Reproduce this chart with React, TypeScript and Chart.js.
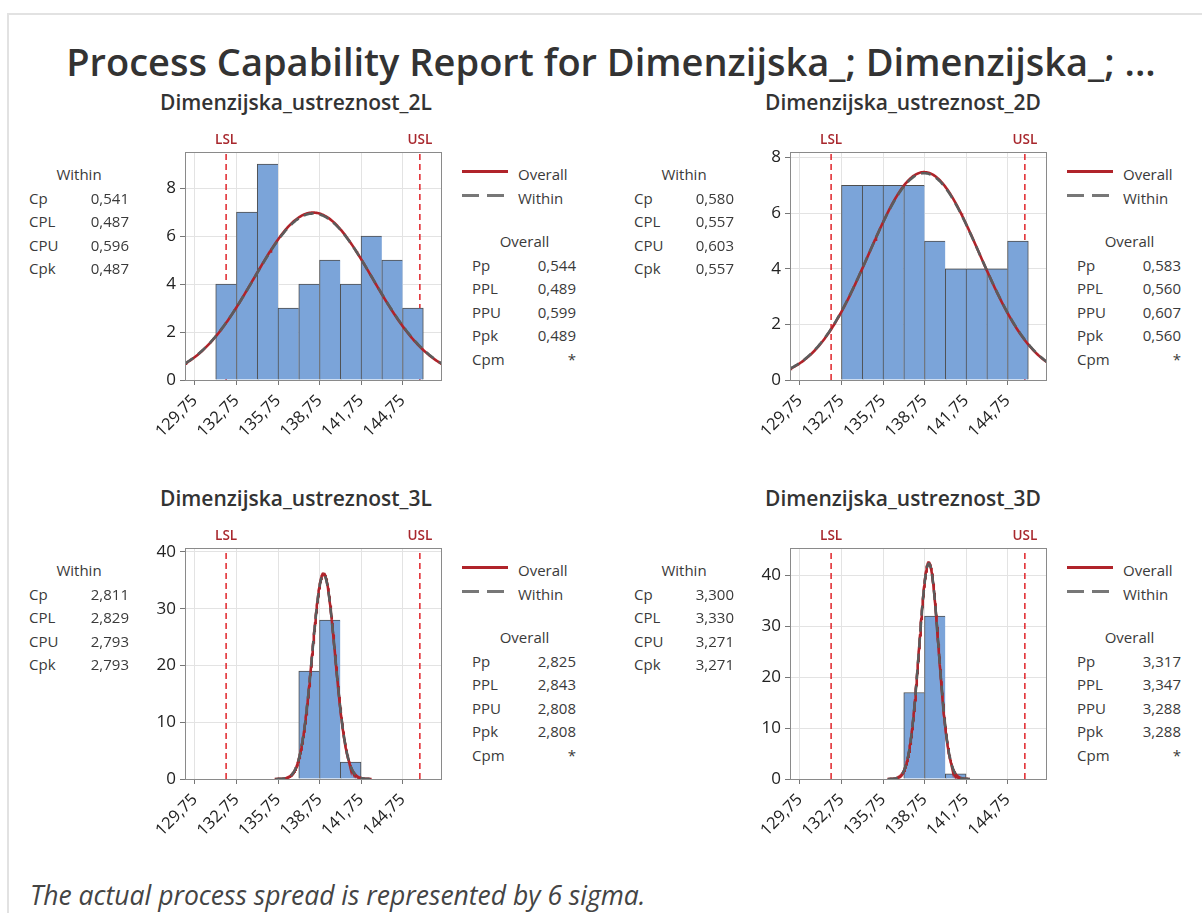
import React, { useEffect, useRef } from "react";
import { Chart, registerables } from "chart.js";

Chart.register(...registerables);
Chart.defaults.font.family = '"Open Sans", "Noto Sans", sans-serif';

// ---------- data ----------
const LSL = 132;
const USL = 146;
const binCenters = [132, 133.5, 135, 136.5, 138, 139.5, 141, 142.5, 144, 145.5];
const binWidth = 1.5;
const xTicks = [129.75, 132.75, 135.75, 138.75, 141.75, 144.75];
const xTickLabels = ["129,75", "132,75", "135,75", "138,75", "141,75", "144,75"];
const xMin = 129.03;
const xMax = 147.6;

const counts2L = [4, 7, 9, 3, 4, 5, 4, 6, 5, 3];
const counts2D = [0, 7, 7, 7, 7, 5, 4, 4, 4, 5];
const counts3L = [0, 0, 0, 0, 19, 28, 3, 0, 0, 0];
const counts3D = [0, 0, 0, 0, 17, 32, 1, 0, 0, 0];

const withinNames = ["Cp", "CPL", "CPU", "Cpk"];
const overallNames = ["Pp", "PPL", "PPU", "Ppk", "Cpm"];

const within2L = [0.541, 0.487, 0.596, 0.487];
const overall2L = [0.544, 0.489, 0.599, 0.489];
const within2D = [0.58, 0.557, 0.603, 0.557];
const overall2D = [0.583, 0.56, 0.607, 0.56];
const within3L = [2.811, 2.829, 2.793, 2.793];
const overall3L = [2.825, 2.843, 2.808, 2.808];
const within3D = [3.3, 3.33, 3.271, 3.271];
const overall3D = [3.317, 3.347, 3.288, 3.288];

const yTicks2L = [0, 2, 4, 6, 8];
const yTicks2D = [0, 2, 4, 6, 8];
const yTicks3L = [0, 10, 20, 30, 40];
const yTicks3D = [0, 10, 20, 30, 40];
const yMaxes = [9.5, 8.2, 40.7, 45.4];

const panelTitles = [
  "Dimenzijska_ustreznost_2L",
  "Dimenzijska_ustreznost_2D",
  "Dimenzijska_ustreznost_3L",
  "Dimenzijska_ustreznost_3D",
];

const panels = [
  { title: panelTitles[0], counts: counts2L, within: within2L, overall: overall2L, yTicks: yTicks2L, yMax: yMaxes[0], col: 0, row: 0 },
  { title: panelTitles[1], counts: counts2D, within: within2D, overall: overall2D, yTicks: yTicks2D, yMax: yMaxes[1], col: 1, row: 0 },
  { title: panelTitles[2], counts: counts3L, within: within3L, overall: overall3L, yTicks: yTicks3L, yMax: yMaxes[2], col: 0, row: 1 },
  { title: panelTitles[3], counts: counts3D, within: within3D, overall: overall3D, yTicks: yTicks3D, yMax: yMaxes[3], col: 1, row: 1 },
];

// ---------- styles ----------
const RED_CURVE = "#B0232A";
const GRAY_CURVE = "#5c5c5c";
const SPEC_RED = "#E0242A";
const SPEC_LABEL = "#A8272D";
const BAR_FILL = "#7BA4D9";
const BAR_EDGE = "#4e4e4e";
const TEXT = "#3a3a3a";

const fmt = (v: number) => v.toFixed(3).replace(".", ",");

// Normal fit derived from the displayed capability indices (Cp -> sigma, CPL -> mean)
function fitCurve(indices: number[], n: number) {
  const sigma = (USL - LSL) / (6 * indices[0]);
  const mean = LSL + 3 * sigma * indices[1];
  const lo = Math.max(xMin, mean - 4.2 * sigma);
  const hi = Math.min(xMax, mean + 4.2 * sigma);
  const steps = 260;
  const pts: { x: number; y: number }[] = [];
  const k = (n * binWidth) / (sigma * Math.sqrt(2 * Math.PI));
  for (let i = 0; i <= steps; i++) {
    const x = lo + ((hi - lo) * i) / steps;
    const z = (x - mean) / sigma;
    pts.push({ x, y: k * Math.exp(-0.5 * z * z) });
  }
  return pts;
}

const framePlugin = {
  id: "frameAndSpecs",
  afterDraw(chart: any) {
    const { ctx, chartArea, scales } = chart;
    ctx.save();
    ctx.strokeStyle = "#8a8a8a";
    ctx.lineWidth = 1;
    ctx.strokeRect(
      Math.round(chartArea.left) + 0.5,
      Math.round(chartArea.top) + 0.5,
      Math.round(chartArea.right - chartArea.left) - 1,
      Math.round(chartArea.bottom - chartArea.top)
    );
    ctx.fillStyle = SPEC_LABEL;
    ctx.font = '600 13.5px "Open Sans", sans-serif';
    ctx.textAlign = "center";
    ctx.textBaseline = "middle";
    ctx.fillText("LSL", scales.x.getPixelForValue(LSL), chartArea.top - 12);
    ctx.fillText("USL", scales.x.getPixelForValue(USL), chartArea.top - 12);
    ctx.restore();
  },
};

function HistPanel({ p }: { p: (typeof panels)[number] }) {
  const ref = useRef<HTMLCanvasElement | null>(null);
  useEffect(() => {
    if (!ref.current) return;
    const n = p.counts.reduce((a, b) => a + b, 0);
    const bars = binCenters.map((x, i) => ({ x, y: p.counts[i] }));
    const overallPts = fitCurve(p.overall, n);
    const withinPts = fitCurve(p.within, n);
    const gridCommon = {
      color: "#e3e3e3",
      tickColor: "#777",
      tickLength: 5,
      offset: false,
      lineWidth: 1,
    };
    const chart = new Chart(ref.current, {
      type: "bar",
      data: {
        datasets: [
          {
            type: "line",
            data: [{ x: LSL, y: 0 }, { x: LSL, y: p.yMax }],
            borderColor: SPEC_RED,
            borderWidth: 1.5,
            borderDash: [6, 4],
            pointRadius: 0,
            order: 4,
          } as any,
          {
            type: "line",
            data: [{ x: USL, y: 0 }, { x: USL, y: p.yMax }],
            borderColor: SPEC_RED,
            borderWidth: 1.5,
            borderDash: [6, 4],
            pointRadius: 0,
            order: 4,
          } as any,
          {
            type: "bar",
            data: bars,
            backgroundColor: BAR_FILL,
            borderColor: BAR_EDGE,
            borderWidth: (ctx: any) => {
              const i = ctx.dataIndex;
              const next = i + 1 < p.counts.length ? p.counts[i + 1] : 0;
              return { left: 1, top: 1, bottom: 0, right: next === 0 ? 1 : 0 };
            },
            borderSkipped: false,
            barPercentage: 1,
            categoryPercentage: 1,
            order: 3,
          } as any,
          {
            type: "line",
            data: overallPts,
            borderColor: RED_CURVE,
            borderWidth: 2.6,
            pointRadius: 0,
            tension: 0,
            order: 2,
          } as any,
          {
            type: "line",
            data: withinPts,
            borderColor: GRAY_CURVE,
            borderWidth: 2.6,
            borderDash: [10, 6],
            pointRadius: 0,
            tension: 0,
            order: 1,
          } as any,
        ],
      },
      options: {
        animation: false,
        responsive: false,
        devicePixelRatio: 1,
        layout: { padding: { left: 0, right: 10, top: 22, bottom: 0 } },
        plugins: { legend: { display: false }, tooltip: { enabled: false } },
        scales: {
          x: {
            type: "linear",
            min: xMin,
            max: xMax,
            offset: false,
            afterFit: (s: any) => {
              s.height = 80;
            },
            afterBuildTicks: (s: any) => {
              s.ticks = xTicks.map((v) => ({ value: v }));
            },
            ticks: {
              autoSkip: false,
              minRotation: 45,
              maxRotation: 45,
              padding: 6,
              color: "#222",
              font: { size: 16.5 },
              callback: (_v: any, i: number) => xTickLabels[i],
            },
            grid: gridCommon,
            border: { display: false },
          },
          y: {
            type: "linear",
            min: 0,
            max: p.yMax,
            afterFit: (s: any) => {
              s.width = 60;
            },
            afterBuildTicks: (s: any) => {
              s.ticks = p.yTicks.map((v) => ({ value: v }));
            },
            ticks: {
              padding: 4,
              color: "#222",
              font: { size: 17 },
              callback: (v: any) => String(v),
            },
            grid: gridCommon,
            border: { display: false },
          },
        },
      } as any,
      plugins: [framePlugin],
    });
    return () => chart.destroy();
  }, [p]);

  const ox = p.col * 605;
  const oy = p.row * 396;
  const ch = p.row === 0 ? 330 : 333;

  const txt = (x: number, y: number, s: string, align: "left" | "right" | "center", extra: any = {}) => (
    <div
      key={`${x}-${y}-${s}`}
      style={{
        position: "absolute",
        left: x,
        top: y,
        transform:
          align === "left" ? "translateY(-50%)" : align === "right" ? "translate(-100%,-50%)" : "translate(-50%,-50%)",
        whiteSpace: "nowrap",
        fontSize: 15,
        lineHeight: "20px",
        color: TEXT,
        ...extra,
      }}
    >
      {s}
    </div>
  );

  const rowStep = 23.6;
  return (
    <>
      {txt(ox + 160, oy + 102, p.title, "left", { fontSize: 21, fontWeight: 600, color: "#333", lineHeight: "28px" })}
      <canvas
        ref={ref}
        width={327}
        height={ch}
        style={{ position: "absolute", left: ox + 125, top: oy + 130, width: 327, height: ch }}
      />
      {/* Within stats */}
      {txt(ox + 79, oy + 174, "Within", "center")}
      {withinNames.map((nm, i) => txt(ox + 29, oy + 197.5 + i * rowStep, nm, "left"))}
      {p.within.map((v, i) => txt(ox + 129, oy + 197.5 + i * rowStep, fmt(v), "right"))}
      {/* Legend */}
      <div style={{ position: "absolute", left: ox + 462, top: oy + 170, width: 46, height: 3, background: RED_CURVE }} />
      {txt(ox + 518, oy + 174, "Overall", "left")}
      <div style={{ position: "absolute", left: ox + 462, top: oy + 194, width: 17, height: 3, background: "#777" }} />
      <div style={{ position: "absolute", left: ox + 487, top: oy + 194, width: 17, height: 3, background: "#777" }} />
      {txt(ox + 518, oy + 197.5, "Within", "left")}
      {/* Overall stats */}
      {txt(ox + 524.5, oy + 240.5, "Overall", "center")}
      {overallNames.map((nm, i) => txt(ox + 472, oy + 264.5 + i * rowStep, nm, "left"))}
      {p.overall.map((v, i) => txt(ox + 576, oy + 264.5 + i * rowStep, fmt(v), "right"))}
      {txt(ox + 576, oy + 264.5 + 4 * rowStep, "*", "right")}
    </>
  );
}

export default function App() {
  return (
    <div
      style={{
        position: "absolute",
        left: 0,
        top: 0,
        width: 1202,
        height: 913,
        background: "#fff",
        overflow: "hidden",
        fontFamily: '"Open Sans", "Noto Sans", sans-serif',
      }}
    >
      <div style={{ position: "absolute", left: 7, top: 13, width: 1195, height: 2, background: "#e2e2e2" }} />
      <div style={{ position: "absolute", left: 7, top: 13, width: 2, height: 900, background: "#e2e2e2" }} />
      <div
        style={{
          position: "absolute",
          left: 611,
          top: 61,
          transform: "translate(-50%,-50%)",
          whiteSpace: "nowrap",
          fontSize: 38,
          fontWeight: 600,
          color: "#333",
          lineHeight: "50px",
        }}
      >
        Process Capability Report for Dimenzijska_; Dimenzijska_; ...
      </div>
      {panels.map((p, i) => (
        <HistPanel key={i} p={p} />
      ))}
      <div
        style={{
          position: "absolute",
          left: 30,
          top: 895,
          transform: "translateY(-50%)",
          whiteSpace: "nowrap",
          fontSize: 26.5,
          fontStyle: "italic",
          color: "#444",
          lineHeight: "34px",
        }}
      >
        The actual process spread is represented by 6 sigma.
      </div>
    </div>
  );
}
